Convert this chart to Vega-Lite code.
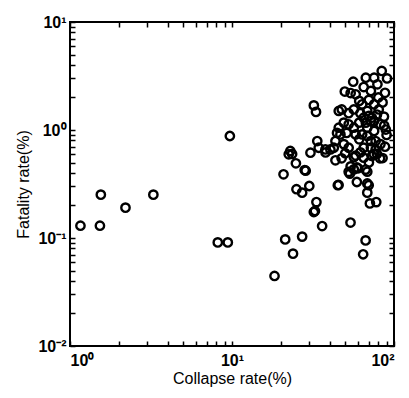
{
  "$schema": "https://vega.github.io/schema/vega-lite/v6.json",
  "width": 324,
  "height": 324,
  "padding": {"left": 15, "top": 14, "right": 12, "bottom": 5},
  "config": {
    "view": {"stroke": "black", "strokeWidth": 2},
    "axis": {"grid": false, "domain": false, "tickColor": "black", "tickWidth": 1.5, "tickSize": -5, "labelFont": "Liberation Sans", "labelFontSize": 16, "labelColor": "black", "titleFont": "Liberation Sans", "titleFontSize": 16, "titleFontWeight": "normal", "titleColor": "black", "labelFontWeight": "bold"}
  },
  "data": {"values": [
    {"x":1.16,"y":0.13},{"x":1.53,"y":0.13},{"x":1.55,"y":0.252},{"x":2.2,"y":0.191},{"x":3.27,"y":0.252},
    {"x":8.17,"y":0.091},{"x":9.42,"y":0.091},{"x":9.7,"y":0.88},{"x":18.3,"y":0.0445},{"x":21.3,"y":0.097},
    {"x":23.8,"y":0.0716},{"x":27.1,"y":0.103},{"x":36,"y":0.129},{"x":32,"y":0.174},{"x":32.5,"y":0.178},
    {"x":33.2,"y":0.215},{"x":20.8,"y":0.389},{"x":25,"y":0.283},{"x":27.1,"y":0.263},{"x":30,"y":0.303},
    {"x":28.1,"y":0.426},{"x":24.8,"y":0.492},{"x":22.4,"y":0.596},{"x":23.5,"y":0.6},{"x":30.5,"y":0.616},
    {"x":37.8,"y":0.62},{"x":45,"y":0.308},{"x":45.5,"y":0.31},{"x":43.5,"y":0.524},{"x":47.5,"y":0.547},
    {"x":53.9,"y":0.139},{"x":53.4,"y":0.394},{"x":56.5,"y":0.432},{"x":60,"y":0.442},{"x":59,"y":0.33},
    {"x":68.4,"y":0.411},{"x":69.8,"y":0.308},{"x":68.4,"y":0.263},{"x":71,"y":0.209},{"x":77.7,"y":0.215},
    {"x":66.8,"y":0.095},{"x":64.5,"y":0.0707},{"x":58,"y":0.58},{"x":65,"y":0.555},{"x":75,"y":0.6},
    {"x":82,"y":0.547},{"x":32,"y":1.69},{"x":33,"y":1.47},{"x":56,"y":2.8},{"x":49.7,"y":2.27},
    {"x":67,"y":3.05},{"x":75.4,"y":3.05},{"x":84,"y":3.52},{"x":90.6,"y":3.0},{"x":88,"y":2.21},
    {"x":79,"y":2.65},{"x":58,"y":2.14},{"x":61,"y":1.86},{"x":54,"y":2.2},{"x":45.6,"y":1.5},
    {"x":47.6,"y":1.55},{"x":52.5,"y":1.43},{"x":56.5,"y":1.55},{"x":63.6,"y":1.73},{"x":68.4,"y":1.5},
    {"x":75.4,"y":1.73},{"x":80.5,"y":1.55},{"x":86.7,"y":1.33},{"x":70,"y":1.35},{"x":65,"y":1.3},
    {"x":62,"y":1.43},{"x":73,"y":1.3},{"x":78.5,"y":1.39},{"x":45.6,"y":1.05},{"x":44.5,"y":0.94},
    {"x":43.5,"y":0.79},{"x":42.5,"y":0.685},{"x":40.5,"y":0.66},{"x":34.3,"y":0.685},{"x":33.6,"y":0.79},
    {"x":22.9,"y":0.64},{"x":28.5,"y":0.42},{"x":37.7,"y":0.66},{"x":52.5,"y":0.41},{"x":54,"y":0.46},
    {"x":59,"y":0.45},{"x":66.8,"y":0.43},{"x":68.4,"y":0.32},{"x":52.5,"y":0.685},{"x":49,"y":0.74},
    {"x":50,"y":0.61},{"x":56.5,"y":0.56},{"x":58,"y":0.91},{"x":61,"y":0.82},{"x":65,"y":0.685},
    {"x":72,"y":0.685},{"x":77,"y":0.66},{"x":82.5,"y":0.74},{"x":78.5,"y":0.6},{"x":73,"y":0.575},
    {"x":89,"y":1.01},{"x":82.5,"y":1.13},{"x":75.4,"y":0.98},{"x":68.4,"y":1.05},{"x":63.6,"y":0.91},
    {"x":68.4,"y":0.88},{"x":72,"y":0.79},{"x":77,"y":0.79},{"x":75.4,"y":1.21},{"x":72,"y":1.21},
    {"x":67,"y":1.17},{"x":61,"y":1.17},{"x":56.5,"y":1.05},{"x":52.5,"y":1.13},{"x":49,"y":1.17},
    {"x":51,"y":0.94},{"x":46.7,"y":0.91},{"x":85,"y":1.8},{"x":80,"y":2.0},{"x":70,"y":1.9},
    {"x":72,"y":2.3},{"x":65,"y":2.5},{"x":87,"y":1.1},{"x":90,"y":0.9},{"x":88,"y":0.7},
    {"x":85,"y":0.55},{"x":62,"y":0.62},{"x":70,"y":0.5}
  ]},
  "layer": [
    {
      "mark": {"type": "point", "shape": "circle", "filled": false, "stroke": "black", "strokeWidth": 2.4, "size": 70, "opacity": 1},
      "encoding": {
        "x": {"field": "x", "type": "quantitative", "scale": {"type": "log", "domain": [1, 100]}, "title": "Collapse rate(%)",
          "axis": {"orient": "bottom", "values": [1,2,3,4,5,6,7,8,9,10,20,30,40,50,60,70,80,90,100], "labelPadding": 11, "titlePadding": 2,
            "labelExpr": "datum.value == 1 ? '10⁰' : datum.value == 10 ? '10¹' : datum.value == 100 ? '10²' : ''"}},
        "y": {"field": "y", "type": "quantitative", "scale": {"type": "log", "domain": [0.01, 10]}, "title": "Fatality rate(%)",
          "axis": {"orient": "left", "values": [0.01,0.02,0.03,0.04,0.05,0.06,0.07,0.08,0.09,0.1,0.2,0.3,0.4,0.5,0.6,0.7,0.8,0.9,1,2,3,4,5,6,7,8,9,10], "labelPadding": 9, "titlePadding": 6,
            "labelExpr": "datum.value == 0.01 ? '10⁻²' : datum.value == 0.1 ? '10⁻¹' : datum.value == 1 ? '10⁰' : datum.value == 10 ? '10¹' : ''"}}
      }
    },
    {
      "mark": {"type": "point", "opacity": 0},
      "encoding": {
        "x": {"field": "x", "type": "quantitative", "scale": {"type": "log", "domain": [1, 100]},
          "axis": {"orient": "top", "title": null, "labels": false, "values": [1,2,3,4,5,6,7,8,9,10,20,30,40,50,60,70,80,90,100]}},
        "y": {"field": "y", "type": "quantitative", "scale": {"type": "log", "domain": [0.01, 10]},
          "axis": {"orient": "right", "title": null, "labels": false, "values": [0.01,0.02,0.03,0.04,0.05,0.06,0.07,0.08,0.09,0.1,0.2,0.3,0.4,0.5,0.6,0.7,0.8,0.9,1,2,3,4,5,6,7,8,9,10]}}
      }
    }
  ],
  "resolve": {"axis": {"x": "independent", "y": "independent"}}
}
